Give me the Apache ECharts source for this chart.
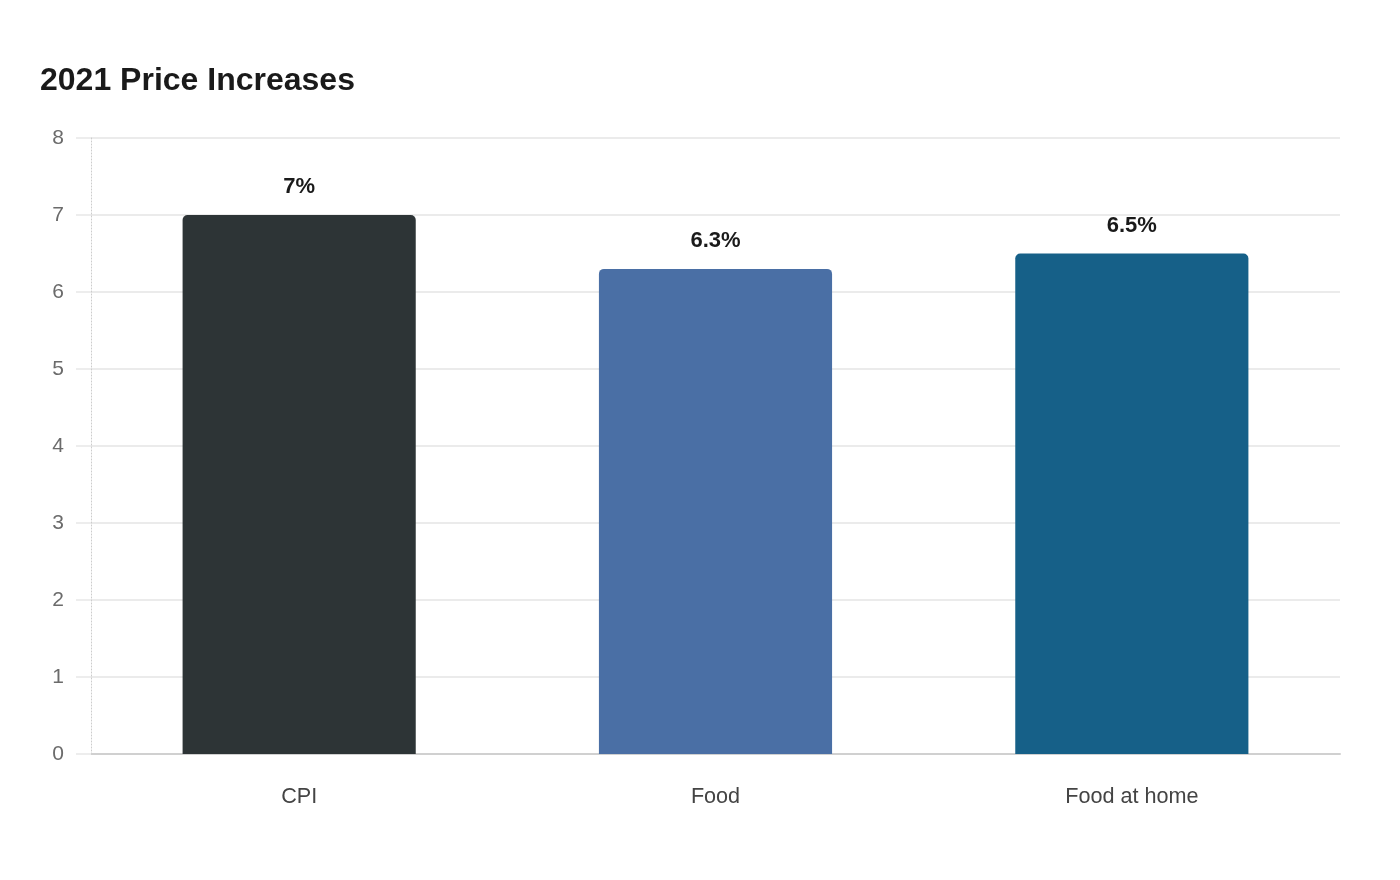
<!DOCTYPE html>
<html>
<head>
<meta charset="utf-8">
<title>2021 Price Increases</title>
<script src="https://cdn.jsdelivr.net/npm/echarts@6/dist/echarts.min.js"></script>
<style>
  html, body { margin: 0; padding: 0; background: #fff; }
  #chart { width: 1400px; height: 880px; }
</style>
</head>
<body>
<div id="chart"></div>
<script>
const categories = ['CPI', 'Food', 'Food at home']
const increases = [7, 6.3, 6.5]
const barColors = ['#2d3436', '#4a6fa5', '#166088']

const myChart = echarts.init(document.getElementById('chart'))

const option = {
  animation: false,
  title: {
    text: '2021 Price Increases',
    left: 35,
    top: 60,
    textStyle: {
      fontFamily: 'Liberation Sans, Arial, sans-serif',
      fontSize: 32,
      fontWeight: 'bold',
      color: '#1a1a1a',
    },
  },
  grid: {
    left: 91,
    right: 60,
    top: 138,
    bottom: 126,
  },
  xAxis: {
    type: 'category',
    data: categories,
    axisLine: { lineStyle: { color: '#d0d0d0', width: 2 } },
    axisTick: { show: false },
    axisLabel: {
      margin: 32,
      fontFamily: 'Liberation Sans, Arial, sans-serif',
      fontSize: 21.6,
      color: '#444',
    },
  },
  yAxis: {
    type: 'value',
    min: 0,
    max: 8,
    interval: 1,
    axisLine: { show: true, lineStyle: { color: '#cccccc', type: [1, 2], width: 1 } },
    axisTick: { show: true, length: 15, lineStyle: { color: '#ededed', width: 2 } },
    splitLine: { lineStyle: { color: '#ebebeb', width: 2 } },
    axisLabel: {
      margin: 27,
      fontFamily: 'Liberation Sans, Arial, sans-serif',
      fontSize: 21,
      color: '#6b6b6b',
    },
  },
  series: [
    {
      type: 'bar',
      data: increases.map((v, i) => ({ value: v, itemStyle: { color: barColors[i] } })),
      barWidth: '56%',
      itemStyle: {
        borderRadius: [5, 5, 0, 0],
      },
      label: {
        show: true,
        position: 'top',
        distance: 17,
        formatter: (p) => p.value + '%',
        fontFamily: 'Liberation Sans, Arial, sans-serif',
        fontSize: 22,
        fontWeight: 'bold',
        color: '#1a1a1a',
      },
    },
  ],
}

myChart.setOption(option, true)
window.addEventListener('resize', () => {
  myChart.resize()
})
</script>
</body>
</html>
